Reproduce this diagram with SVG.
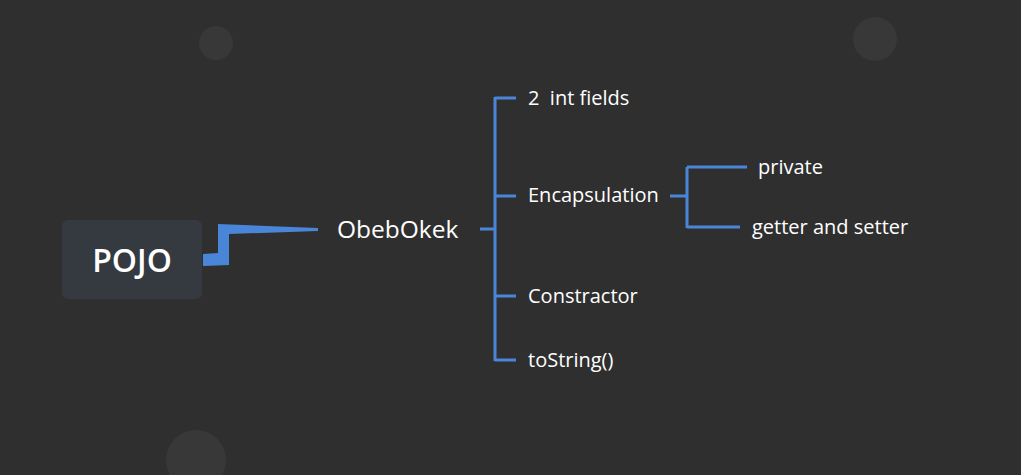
<svg xmlns="http://www.w3.org/2000/svg" width="1021" height="475" viewBox="0 0 1021 475">
<style>
.t{font-family:"Open Sans","Noto Sans",sans-serif;fill:#ffffff}
.c{fill:none;stroke:#4a86d8;stroke-width:3}
.deco{fill:#383838}
</style>
<rect width="1021" height="475" fill="#2f2f2f"/>
<circle class="deco" cx="216" cy="43" r="17"/>
<circle class="deco" cx="875" cy="39" r="22"/>
<circle class="deco" cx="196" cy="460" r="30"/>
<g id="connectors">
<polygon points="203,254 218,253 218,224 318,228 318,231 229,234 229,265 203,266" fill="#4a86d8"/>
<path class="c" d="M480,229 H495 M495,97 V361 M495,98 H516 M495,196 H516 M495,296 H516 M495,360 H516"/>
<path class="c" d="M670,196 H687 M687,167 V228 M687,167 H747 M687,227 H740"/>
</g>
<g id="pojo">
<rect x="62" y="220" width="140" height="79" rx="6" fill="#343a40"/>
<text class="t" x="132" y="272" font-size="32" font-weight="600" text-anchor="middle">POJO</text>
</g>
<g id="obebokek"><text class="t" x="337" y="238" font-size="24.5">ObebOkek</text></g>
<g id="fields"><text class="t" x="528" y="105" font-size="20" xml:space="preserve">2  int fields</text></g>
<g id="encapsulation"><text class="t" x="528" y="202" font-size="20">Encapsulation</text></g>
<g id="constractor"><text class="t" x="528" y="303" font-size="20">Constractor</text></g>
<g id="tostring"><text class="t" x="528" y="367" font-size="20">toString()</text></g>
<g id="private"><text class="t" x="758" y="174" font-size="20">private</text></g>
<g id="getset"><text class="t" x="752" y="234" font-size="20">getter and setter</text></g>
</svg>
